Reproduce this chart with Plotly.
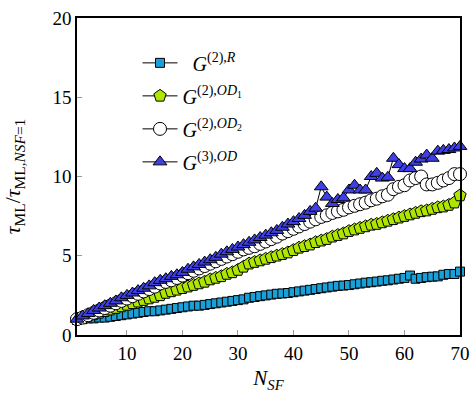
import plotly.graph_objects as go

n_sf = list(range(1, 71))

g2_r = [0.95, 1.0, 1.05, 1.05, 1.1, 1.1, 1.15, 1.2, 1.25, 1.3,
        1.35, 1.4, 1.45, 1.5, 1.5, 1.55, 1.6, 1.65, 1.7, 1.75,
        1.8, 1.85, 1.85, 1.9, 1.95, 2.0, 2.05, 2.1, 2.15, 2.2,
        2.25, 2.35, 2.4, 2.45, 2.5, 2.55, 2.6, 2.62, 2.65, 2.7,
        2.75, 2.8, 2.85, 2.9, 2.95, 3.0, 3.05, 3.1, 3.12, 3.15,
        3.2, 3.25, 3.3, 3.33, 3.37, 3.42, 3.45, 3.5, 3.55, 3.6,
        3.75, 3.55, 3.6, 3.65, 3.68, 3.7, 3.8, 3.85, 3.85, 4.0]

g2_od1 = [1.0, 1.1, 1.2, 1.3, 1.4, 1.5, 1.6, 1.7, 1.8, 1.9,
          2.0, 2.1, 2.2, 2.3, 2.4, 2.5, 2.65, 2.75, 2.85, 2.95,
          3.05, 3.15, 3.25, 3.35, 3.5, 3.6, 3.7, 3.85, 3.95, 4.1,
          4.3, 4.5, 4.6, 4.7, 4.8, 4.9, 5.0, 5.1, 5.2, 5.35,
          5.5, 5.6, 5.7, 5.85, 5.95, 6.05, 6.2, 6.3, 6.4, 6.55,
          6.65, 6.75, 6.85, 6.95, 7.0, 7.1, 7.2, 7.3, 7.4, 7.5,
          7.6, 7.7, 7.8, 7.85, 7.95, 8.05, 8.1, 8.2, 8.35, 8.8]

g2_od2 = [1.0, 1.1, 1.25, 1.4, 1.55, 1.7, 1.85, 2.0, 2.15, 2.3,
          2.45, 2.6, 2.75, 2.9, 3.05, 3.25, 3.35, 3.45, 3.6, 3.75,
          3.9, 4.05, 4.2, 4.35, 4.5, 4.65, 4.8, 4.95, 5.1, 5.25,
          5.4, 5.5, 5.6, 5.75, 5.9, 6.05, 6.2, 6.4, 6.55, 6.7,
          6.85, 7.0, 7.15, 7.3, 7.45, 7.55, 7.7, 7.8, 7.9, 8.05,
          8.15, 8.25, 8.35, 8.5, 8.6, 8.75, 8.85, 9.2, 9.35, 9.45,
          9.75, 9.9, 10.0, 9.5, 9.5, 9.6, 9.75, 9.9, 10.15, 10.15]

g3_od = [1.0, 1.2, 1.35, 1.55, 1.7, 1.85, 2.0, 2.15, 2.35, 2.5,
         2.65, 2.8, 2.95, 3.1, 3.3, 3.45, 3.55, 3.7, 3.8, 3.95,
         4.15, 4.3, 4.45, 4.6, 4.75, 4.9, 5.1, 5.25, 5.4, 5.55,
         5.7, 5.85, 6.0, 6.15, 6.3, 6.45, 6.6, 6.8, 7.0, 7.15,
         7.35, 7.55, 7.8, 8.0, 9.35, 8.7, 8.3, 8.55, 8.65, 9.15,
         9.45, 9.15, 9.15, 10.0, 10.2, 9.9, 9.95, 11.15, 10.75, 10.5,
         10.5, 10.9, 11.1, 11.35, 11.15, 11.6, 11.65, 11.7, 11.8, 11.9]

x_ticks = [10, 20, 30, 40, 50, 60, 70]
y_ticks = [0, 5, 10, 15, 20]

names = [
    "  <i>G</i><sup>(2),<i>R</i></sup>",
    "<i>G</i><sup>(2),<i>OD</i><sub>1</sub></sup>",
    "<i>G</i><sup>(2),<i>OD</i><sub>2</sub></sup>",
    "<i>G</i><sup>(3),<i>OD</i></sup>",
]

FONT = "Liberation Serif"

series = [
    (g2_r, names[0], "square", "#1a9fd6", 9),
    (g2_od1, names[1], "pentagon", "#aee600", 13),
    (g2_od2, names[2], "circle", "#ffffff", 13),
    (g3_od, names[3], "triangle-up", "#3f3fe6", 12),
]

fig = go.Figure()
for i, (ys, nm, sym, col, sz) in enumerate(series):
    fig.add_trace(go.Scatter(
        x=n_sf, y=ys, name=nm, mode="lines+markers", legendgroup=f"g{i}",
        line=dict(color="black", width=1),
        marker=dict(symbol=sym, color=col, size=sz,
                    line=dict(color="black", width=1)),
        cliponaxis=False,
    ))

fig.update_layout(
    width=472, height=394,
    margin=dict(l=77, r=12, t=18, b=59, autoexpand=False),
    plot_bgcolor="white", paper_bgcolor="white",
    font=dict(family=FONT, size=19, color="black"),
    showlegend=True,
    legend=dict(x=0.158, y=0.92, xanchor="left", yanchor="top",
                bgcolor="rgba(0,0,0,0)", font=dict(size=20),
                itemwidth=35, tracegroupgap=4),
    xaxis=dict(range=[1, 70], tickvals=x_ticks, ticks="inside", ticklen=5,
               tickcolor="#999999", showline=True, linecolor="black",
               linewidth=1.5, mirror=True, showgrid=False, zeroline=False,
               automargin=False,
               title=dict(text="<i>N</i><sub><i>SF</i></sub>", standoff=8,
                          font=dict(size=21))),
    yaxis=dict(range=[0, 20], tickvals=y_ticks, ticks="inside", ticklen=5,
               tickcolor="#999999", showline=True, linecolor="black",
               linewidth=1.5, mirror=True, showgrid=False, zeroline=False,
               automargin=False,
               title=dict(text="<i>τ</i><sub>ML</sub>/<i>τ</i><sub>ML,<i>NSF</i>=1</sub>",
                          standoff=28, font=dict(size=22))),
)

fig.write_html("out.html", config={"displayModeBar": False},
               post_script="document.body.style.margin='0';document.body.style.overflow='hidden';")
